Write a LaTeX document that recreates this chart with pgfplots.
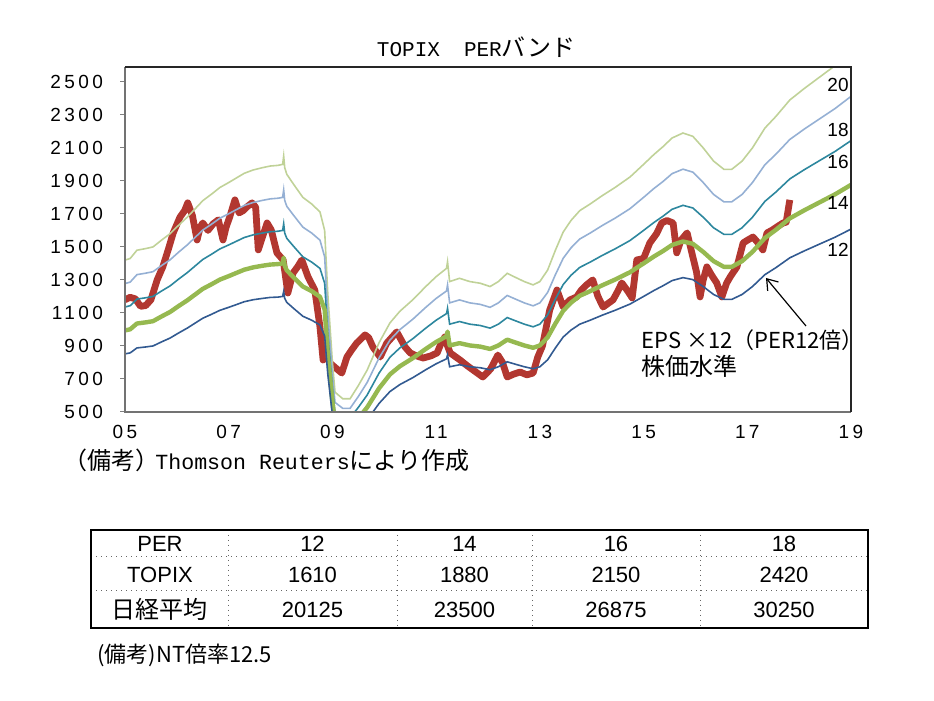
\documentclass[border=0pt]{standalone}
\usepackage{pgfplots}
\usepackage{pgfplotstable}
\pgfplotsset{compat=1.18}
\usetikzlibrary{arrows.meta}
\usepackage{fontspec}
\setmainfont{Liberation Sans}
\newfontfamily\cjk{Noto Sans CJK JP}
\newfontfamily\mono{Liberation Mono}
\newfontfamily\tickfont[LetterSpace=18]{Liberation Sans}
\newcommand\M[1]{{\mono\fontsize{10.5}{12}\selectfont #1}}
\newcommand\J[1]{{\cjk\fontsize{12}{14}\selectfont #1}}
\definecolor{c20}{RGB}{192,210,152}
\definecolor{c18}{RGB}{149,176,212}
\definecolor{c16}{RGB}{45,135,158}
\definecolor{c14}{RGB}{150,185,80}
\definecolor{c12}{RGB}{50,90,145}
\definecolor{ctopix}{RGB}{178,55,48}

\pgfplotstableread{
t p12 p14 p16 p18 p20
2005.00 852 994 1136 1278 1420
2005.10 858 1001 1144 1287 1430
2005.23 888 1036 1184 1332 1480
2005.40 894 1043 1192 1341 1490
2005.54 900 1050 1200 1350 1500
2005.70 924 1078 1232 1386 1540
2005.87 948 1106 1264 1422 1580
2006.03 978 1141 1304 1467 1630
2006.20 1008 1176 1344 1512 1680
2006.35 1038 1211 1384 1557 1730
2006.50 1068 1246 1424 1602 1780
2006.67 1092 1274 1456 1638 1820
2006.83 1116 1302 1488 1674 1860
2007.00 1134 1323 1512 1701 1890
2007.16 1152 1344 1536 1728 1920
2007.30 1168 1362 1557 1751 1946
2007.47 1180 1376 1573 1769 1966
2007.65 1188 1386 1584 1782 1980
2007.80 1194 1393 1592 1791 1990
2007.95 1196 1396 1595 1795 1994
2008.04 1200 1400 1600 1800 2000
2008.06 1230 1435 1640 1845 2050
2008.08 1188 1386 1584 1782 1980
2008.12 1164 1358 1552 1746 1940
2008.25 1128 1316 1504 1692 1880
2008.43 1080 1260 1440 1620 1800
2008.60 1056 1232 1408 1584 1760
2008.76 1027 1198 1370 1541 1712
2008.85 960 1120 1280 1440 1600
2008.91 732 854 976 1098 1220
2009.00 480 560 640 720 800
2009.05 372 434 496 558 620
2009.20 348 406 464 522 580
2009.34 348 406 464 522 580
2009.50 396 462 528 594 660
2009.67 452 528 603 679 754
2009.90 552 644 736 828 920
2010.11 624 728 832 936 1040
2010.30 666 777 888 999 1110
2010.55 708 826 944 1062 1180
2010.80 756 882 1008 1134 1260
2011.00 792 924 1056 1188 1320
2011.20 822 959 1096 1233 1370
2011.22 846 987 1128 1269 1410
2011.26 774 903 1032 1161 1290
2011.45 786 917 1048 1179 1310
2011.65 774 903 1032 1161 1290
2011.85 768 896 1024 1152 1280
2012.04 756 882 1008 1134 1260
2012.20 774 903 1032 1161 1290
2012.37 804 938 1072 1206 1340
2012.50 792 924 1056 1188 1320
2012.70 774 903 1032 1161 1290
2012.87 762 889 1016 1143 1270
2013.00 774 903 1032 1161 1290
2013.15 816 952 1088 1224 1360
2013.30 888 1036 1184 1332 1480
2013.45 954 1113 1272 1431 1590
2013.60 996 1162 1328 1494 1660
2013.77 1032 1204 1376 1548 1720
2013.97 1056 1232 1408 1584 1760
2014.20 1086 1267 1448 1629 1810
2014.45 1116 1302 1488 1674 1860
2014.74 1154 1347 1539 1732 1924
2015.00 1200 1400 1600 1800 2000
2015.20 1236 1442 1648 1854 2060
2015.37 1264 1474 1685 1895 2106
2015.55 1296 1512 1728 1944 2160
2015.76 1314 1533 1752 1971 2190
2015.95 1302 1519 1736 1953 2170
2016.15 1260 1470 1680 1890 2100
2016.35 1212 1414 1616 1818 2020
2016.55 1182 1379 1576 1773 1970
2016.70 1182 1379 1576 1773 1970
2016.90 1212 1414 1616 1818 2020
2017.10 1260 1470 1680 1890 2100
2017.34 1332 1554 1776 1998 2220
2017.55 1374 1603 1832 2061 2290
2017.82 1434 1673 1912 2151 2390
2018.10 1476 1722 1968 2214 2460
2018.40 1518 1771 2024 2277 2530
2018.70 1560 1820 2080 2340 2600
2019.00 1608 1876 2144 2412 2680
}\bands

\pgfplotstableread{
t v
2005.00 1180
2005.10 1195
2005.20 1185
2005.30 1140
2005.40 1145
2005.50 1180
2005.62 1300
2005.73 1380
2005.85 1500
2005.93 1585
2006.06 1680
2006.15 1720
2006.21 1767
2006.30 1690
2006.39 1542
2006.45 1620
2006.50 1645
2006.60 1600
2006.70 1640
2006.80 1664
2006.89 1542
2006.95 1620
2007.02 1682
2007.12 1785
2007.20 1706
2007.28 1720
2007.35 1742
2007.45 1767
2007.52 1740
2007.57 1482
2007.65 1560
2007.74 1645
2007.82 1603
2007.93 1464
2008.05 1421
2008.14 1221
2008.24 1342
2008.33 1380
2008.41 1421
2008.53 1318
2008.66 1239
2008.76 1015
2008.82 815
2008.88 850
2008.95 797
2009.05 770
2009.18 736
2009.28 833
2009.38 880
2009.47 918
2009.63 967
2009.70 950
2009.78 894
2009.92 833
2010.05 918
2010.24 985
2010.32 940
2010.40 894
2010.50 858
2010.62 840
2010.75 827
2010.90 840
2011.02 858
2011.10 920
2011.17 955
2011.22 900
2011.27 858
2011.46 815
2011.60 780
2011.71 755
2011.82 730
2011.90 712
2012.05 760
2012.19 845
2012.28 800
2012.37 712
2012.50 730
2012.62 742
2012.75 725
2012.87 736
2012.96 833
2013.05 900
2013.19 1118
2013.33 1239
2013.45 1136
2013.58 1179
2013.71 1197
2013.80 1239
2013.90 1270
2014.02 1300
2014.12 1200
2014.22 1136
2014.41 1179
2014.50 1230
2014.58 1282
2014.70 1230
2014.78 1191
2014.87 1421
2015.00 1430
2015.12 1524
2015.25 1580
2015.35 1645
2015.45 1660
2015.57 1645
2015.64 1464
2015.72 1540
2015.84 1585
2015.95 1439
2016.02 1350
2016.09 1197
2016.15 1300
2016.22 1379
2016.31 1330
2016.41 1282
2016.51 1197
2016.60 1280
2016.67 1318
2016.80 1379
2016.92 1524
2017.00 1540
2017.11 1560
2017.22 1520
2017.30 1482
2017.38 1585
2017.47 1600
2017.57 1621
2017.69 1645
2017.75 1650
2017.82 1785
}\topix

\begin{document}
\begin{tikzpicture}[x=0.5pt,y=0.5pt]
\useasboundingbox (0,0) rectangle (934,701);
\begin{axis}[
  name=ax,
  at={(62.5pt,144.5pt)}, anchor=south west,
  scale only axis, width=363pt, height=172.5pt,
  xmin=2005, xmax=2019, ymin=500, ymax=2590,
  axis line style={draw=none},
  xtick={2005,2007,...,2019},
  xticklabels={05,07,09,11,13,15,17,19},
  ytick={500,700,...,2500},
  /pgf/number format/1000 sep={},
  /pgf/number format/assume math mode=true,
  ticklabel style={font=\tickfont\fontsize{9.5}{11}\selectfont, text=black},
  tick align=outside, tick pos=left,
  major tick length=2.5pt,
  ytick style={draw=gray, line width=0.5pt},
  xtick style={draw=none},
  yticklabel style={xshift=-5pt},
  xticklabel style={yshift=-0.5pt},
  clip=true,
]
\addplot[ctopix, line width=3.4pt, line join=round] table[x=t,y=v]{\topix};
\addplot[c20, line width=0.8pt] table[x=t,y=p20]{\bands};
\addplot[c18, line width=0.8pt] table[x=t,y=p18]{\bands};
\addplot[c16, line width=0.8pt] table[x=t,y=p16]{\bands};
\addplot[c14, line width=2.2pt, line join=round] table[x=t,y=p14]{\bands};
\addplot[c12, line width=0.8pt] table[x=t,y=p12]{\bands};
\end{axis}
\draw[gray!90!black, line width=0.6pt] (ax.north west) -- (ax.south west) -- (ax.south east);
\draw[black!85, line width=0.7pt] (ax.north west) -- (ax.north east) -- (ax.south east);

% band labels
\node[anchor=east, inner sep=0pt] at (849,616) {\fontsize{9.5}{11}\selectfont 20};
\node[anchor=east, inner sep=0pt] at (849,571) {\fontsize{9.5}{11}\selectfont 18};
\node[anchor=east, inner sep=0pt] at (849,539) {\fontsize{9.5}{11}\selectfont 16};
\node[anchor=east, inner sep=0pt] at (849,498) {\fontsize{9.5}{11}\selectfont 14};
\node[anchor=east, inner sep=0pt] at (849,451) {\fontsize{9.5}{11}\selectfont 12};

% annotation
\node[anchor=west, inner sep=0pt] at (641,361) {\cjk\fontsize{11}{13}\selectfont EPS ×12（PER12倍）};
\node[anchor=west, inner sep=0pt] at (641,335) {\cjk\fontsize{12}{14}\selectfont 株価水準};
\draw[line width=0.6pt, -{Straight Barb[length=5pt,width=7pt]}] (806,375) -- (766,423);

% title
\node[inner sep=0pt] at (476,654) {\M{TOPIX}\J{　}\M{PER}\J{バンド}};

% footnote
\node[anchor=west, inner sep=0pt] at (63,241) {\J{（備考）}\hspace{-2pt}{\mono\fontsize{10.8}{12}\selectfont Thomson Reuters}\J{により作成}};

% table
\draw[black!60, dotted, line width=0.5pt] (91,144) -- (868,144) (91,110) -- (868,110);
\draw[black!60, dotted, line width=0.5pt] (228,171) -- (228,73) (397,171) -- (397,73) (532,171) -- (532,73) (700,171) -- (700,73);
\draw[black, line width=1.2pt] (91,73) rectangle (868,171);
\begin{scope}[every node/.style={inner sep=0pt, font=\fontsize{11}{13}\selectfont}]
\node at (160,157.5) {PER};
\node at (312.5,157.5) {12};
\node at (464.5,157.5) {14};
\node at (616,157.5) {16};
\node at (784,157.5) {18};
\node at (160,126) {TOPIX};
\node at (312.5,126) {1610};
\node at (464.5,126) {1880};
\node at (616,126) {2150};
\node at (784,126) {2420};
\node at (160,91.5) {\cjk\fontsize{12}{14}\selectfont 日経平均};
\node at (312.5,91.5) {20125};
\node at (464.5,91.5) {23500};
\node at (616,91.5) {26875};
\node at (784,91.5) {30250};
\end{scope}
\node[anchor=west, inner sep=0pt] at (97,46) {\cjk\fontsize{11}{13}\selectfont (備考)NT倍率12.5};
\end{tikzpicture}
\end{document}
